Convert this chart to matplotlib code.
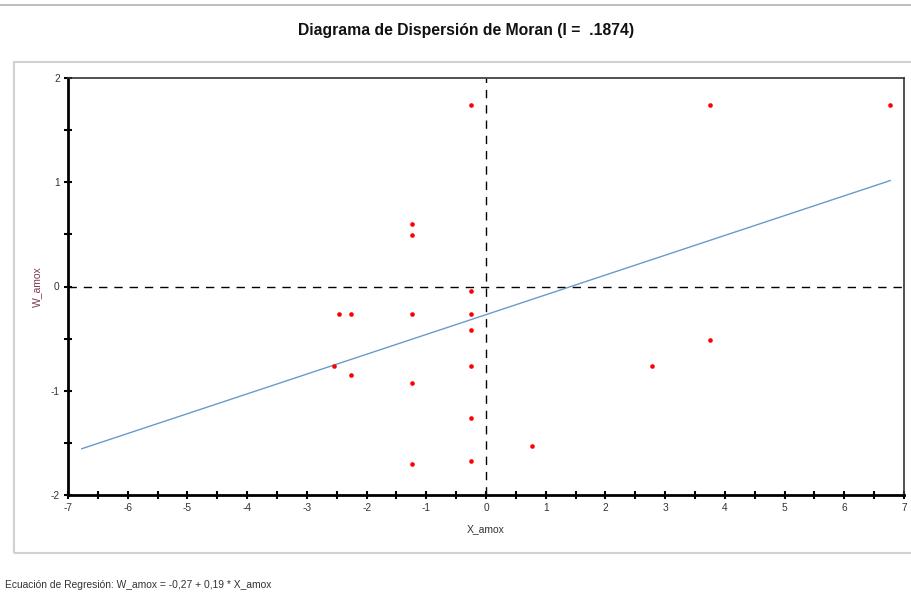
import matplotlib
matplotlib.use('Agg')
import matplotlib.pyplot as plt
from matplotlib.patches import Rectangle
from matplotlib.lines import Line2D
import numpy as np

plt.rcParams['font.family'] = ['Liberation Sans', 'DejaVu Sans']
plt.rcParams['axes.unicode_minus'] = False

# Moran scatter data
x_amox = [-0.25, 3.75, 6.77, -1.24, -1.24, -0.25, -2.46, -2.26, -1.24, -0.25,
          -0.25, 3.75, -2.55, -2.26, -1.24, -0.25, 2.78, -0.25, 0.77, -0.25, -1.24]
w_amox = [1.74, 1.74, 1.74, 0.60, 0.49, -0.04, -0.26, -0.26, -0.26, -0.26,
          -0.42, -0.51, -0.76, -0.85, -0.93, -0.76, -0.76, -1.26, -1.53, -1.67, -1.70]
intercept = -0.27
slope = 0.19
moran_i = '.1874'

fig = plt.figure(figsize=(9.12, 5.95), dpi=100)

# page decorations
fig.add_artist(Line2D([0, 1], [1 - 5/595, 1 - 5/595], color='#b0b0b0', lw=1.2))
fig.add_artist(Rectangle((14/912, 1 - 553/595), 1.0, (553 - 62)/595,
                         fill=False, edgecolor='#d0d0d0', lw=1.5))

fig.text(466/912, 1 - 30/595, 'Diagrama de Dispersión de Moran (I =  ' + moran_i + ')',
         ha='center', va='center', fontsize=11.3, fontweight='bold', color='#111111')

ax = fig.add_axes([68/912, 1 - 495/595, (904 - 68)/912, (495 - 78)/595])

ax.axhline(0, color='black', lw=1, dashes=(6, 5))
ax.axvline(0, color='black', lw=1, dashes=(6, 5))

# regression line over the symmetric range of the data
xmax = max(abs(v) for v in x_amox)
xl = np.array([-xmax, xmax])
ax.plot(xl, intercept + slope * xl, color='#6a9acb', lw=1)

ax.scatter(x_amox, w_amox, s=11, color='red', zorder=3, linewidths=0)

ax.set_xlim(-7, 7)
ax.set_ylim(-2, 2)
ax.set_xticks(range(-7, 8))
ax.set_xticks(np.arange(-6.5, 7, 1), minor=True)
ax.set_yticks(range(-2, 3))
ax.set_yticks(np.arange(-1.5, 2, 1), minor=True)

for s in ['left', 'bottom']:
    ax.spines[s].set_linewidth(2)
    ax.spines[s].set_color('black')
for s in ['top', 'right']:
    ax.spines[s].set_linewidth(1.2)
    ax.spines[s].set_color('#333333')

ax.tick_params(which='both', direction='inout', length=6, width=1.5,
               labelsize=7.3, labelcolor='#333333', pad=3)

ax.set_xlabel('X_amox', fontsize=7.5, color='#333333', labelpad=8)
ax.set_ylabel('W_amox', fontsize=7.5, color='#7a3b4f', labelpad=6)

fig.text(5/912, 1 - 585/595, 'Ecuación de Regresión: W_amox = -0,27 + 0,19 * X_amox',
         ha='left', va='center', fontsize=7.4, color='#333333')

fig.savefig('out.png', dpi=100)
